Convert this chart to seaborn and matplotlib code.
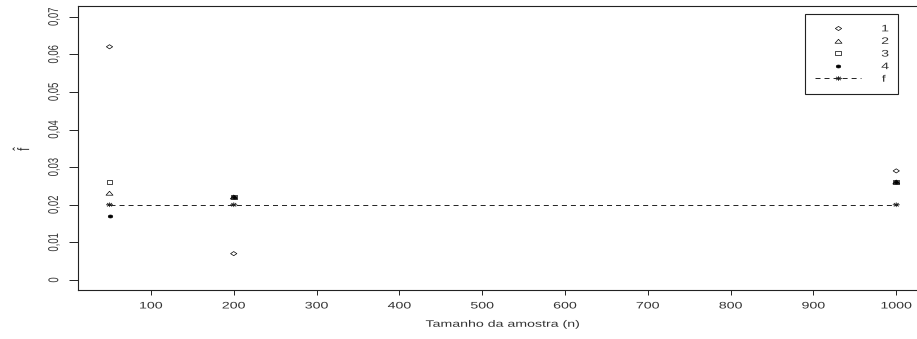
import numpy as np
import matplotlib
matplotlib.use("Agg")
import matplotlib.pyplot as plt
import seaborn as sns
from matplotlib.path import Path
from matplotlib.lines import Line2D
from matplotlib.patheffects import AbstractPathEffect
from matplotlib.transforms import Affine2D

# ---- data -------------------------------------------------------------
sample_sizes = [50, 200, 1000]
est_1 = [0.062, 0.007, 0.029]
est_2 = [0.023, 0.022, 0.026]
est_3 = [0.026, 0.022, 0.026]
est_4 = [0.017, 0.022, 0.026]
f_true = [0.020, 0.020, 0.020]

series_labels = ["1", "2", "3", "4", "f"]
x_ticks = [100, 200, 300, 400, 500, 600, 700, 800, 900, 1000]
x_tick_labels = [str(v) for v in x_ticks]
y_ticks = [0.0, 0.01, 0.02, 0.03, 0.04, 0.05, 0.06, 0.07]
y_tick_labels = ["0", "0,01", "0,02", "0,03", "0,04", "0,05", "0,06", "0,07"]
x_title = "Tamanho da amostra (n)"
y_title = r"$\hat{\mathrm{f}}$"

# ---- style ------------------------------------------------------------
sns.set_style("ticks")
plt.rcParams["font.family"] = ["Liberation Sans", "DejaVu Sans"]
plt.rcParams["mathtext.fontset"] = "custom"
plt.rcParams["mathtext.rm"] = "Liberation Sans"
plt.rcParams["lines.scale_dashes"] = False

INK = "#222222"
TXT = "#333333"
WIDE = 1.5      # horizontal stretch of glyphs and symbols
FS = 6.8


class WideGlyphs(AbstractPathEffect):
    """Draw text paths stretched horizontally about their own centre."""

    def __init__(self, sx=WIDE):
        super().__init__()
        self.sx = sx

    def draw_path(self, renderer, gc, tpath, affine, rgbFace=None):
        box = tpath.get_extents(affine)
        cx = 0.5 * (box.x0 + box.x1)
        stretched = affine + Affine2D().translate(-cx, 0).scale(self.sx, 1).translate(cx, 0)
        renderer.draw_path(gc, tpath, stretched, rgbFace)


def wide_path(verts, codes=None):
    v = np.asarray(verts, dtype=float) * np.array([WIDE, 1.0])
    return Path(v, codes)


closed4 = [Path.MOVETO, Path.LINETO, Path.LINETO, Path.LINETO, Path.CLOSEPOLY]
m_diamond = wide_path([(0, 1), (1, 0), (0, -1), (-1, 0), (0, 1)], closed4)
m_triangle = wide_path([(-1, -0.75), (1, -0.75), (0, 0.95), (-1, -0.75)],
                       [Path.MOVETO, Path.LINETO, Path.LINETO, Path.CLOSEPOLY])
m_square = wide_path([(-1, -1), (1, -1), (1, 1), (-1, 1), (-1, -1)], closed4)
circ = Path.unit_circle()
m_dot = wide_path(circ.vertices, circ.codes)
d = 0.71
m_star = wide_path(
    [(-1, 0), (1, 0), (0, -1), (0, 1), (-d, -d), (d, d), (-d, d), (d, -d)],
    [Path.MOVETO, Path.LINETO] * 4,
)

series = [
    (est_1, m_diamond, 4.5, "none"),
    (est_2, m_triangle, 5.0, "none"),
    (est_3, m_square, 4.0, "none"),
    (est_4, m_dot, 3.2, "k"),
]
STAR_SIZE = 5.0

# ---- figure -----------------------------------------------------------
fig = plt.figure(figsize=(9.17, 3.39), dpi=100)
ax = fig.add_axes([0.0851, 0.1431, 0.9266, 0.8387])

sns.lineplot(x=sample_sizes, y=f_true, color=INK, linewidth=0.7,
             linestyle=(0, (3.6, 2.9)), ax=ax, zorder=2)
sns.scatterplot(x=sample_sizes, y=f_true, marker=m_star, s=STAR_SIZE ** 2,
                facecolor="none", edgecolor=INK, linewidth=0.6, ax=ax, zorder=3)

for vals, mk, ms, fc in series:
    sns.scatterplot(x=sample_sizes, y=vals, marker=mk, s=ms ** 2,
                    facecolor=fc, edgecolor="k", linewidth=0.5, ax=ax, zorder=3)

ax.set_xlim(12, 1038)
ax.set_ylim(-0.0028, 0.0728)
ax.set_xticks(x_ticks, labels=x_tick_labels)
ax.set_yticks(y_ticks, labels=y_tick_labels, rotation=90, va="center")

ax.tick_params(axis="x", length=3.6, width=0.7, pad=4.3, labelsize=FS,
               colors=INK, labelcolor=TXT, bottom=True)
ax.tick_params(axis="y", length=6.5, width=0.7, pad=7.5, labelsize=FS,
               colors=INK, labelcolor=TXT, left=True)
for sp in ax.spines.values():
    sp.set_visible(True)
    sp.set_linewidth(0.8)
    sp.set_color(INK)

ax.set_xlabel(x_title, fontsize=FS, color=TXT)
ax.xaxis.set_label_coords(0.5, -0.119)
ax.xaxis.label.set_va("center")
ax.set_ylabel(y_title, fontsize=8, color=TXT)
ax.yaxis.set_label_coords(-0.0671, 0.501)
ax.yaxis.label.set_va("center")
ax.yaxis.label.set_rotation_mode("default")

# ---- legend -----------------------------------------------------------
handles = [
    Line2D([], [], linestyle="none", marker=mk, markersize=ms,
           markerfacecolor=fc, markeredgecolor="k", markeredgewidth=0.5)
    for _, mk, ms, fc in series
]
handles.append(Line2D([], [], color=INK, linewidth=0.7, linestyle=(0, (3.6, 2.9)),
                      marker=m_star, markersize=STAR_SIZE, markerfacecolor="none",
                      markeredgecolor=INK, markeredgewidth=0.6))
leg = ax.legend(handles, series_labels, loc="upper left",
                bbox_to_anchor=(0.8556, 0.9726, 0.1091, 0.0), mode="expand",
                borderaxespad=0.0, borderpad=1.1, labelspacing=0.38,
                handlelength=4.8, handletextpad=2.3, numpoints=1,
                fontsize=FS, frameon=True, fancybox=False, framealpha=1.0)
leg.get_frame().set_edgecolor(INK)
leg.get_frame().set_linewidth(0.8)
for t in leg.get_texts():
    t.set_color(TXT)

# stretched lettering for every piece of text
texts = list(leg.get_texts()) + [ax.xaxis.label, ax.yaxis.label]
texts += [tk.label1 for tk in ax.xaxis.get_major_ticks()]
texts += [tk.label1 for tk in ax.yaxis.get_major_ticks()]
for t in texts:
    t.set_path_effects([WideGlyphs()])

fig.savefig("out.png", dpi=100)
